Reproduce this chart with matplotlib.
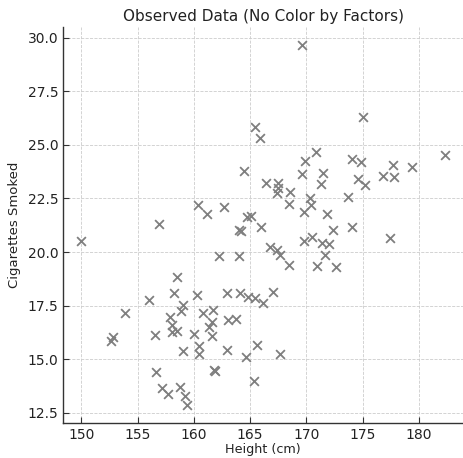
import matplotlib
matplotlib.use("Agg")
import matplotlib.pyplot as plt

height_cm = [
    150.0, 152.6, 152.85, 153.85, 156.0, 156.9, 156.55, 156.6, 157.2, 157.7,
    158.5, 158.26, 157.9, 158.05, 158.1, 158.5, 159.05, 158.9, 159.05, 158.8,
    159.2, 159.4, 160.0, 160.3, 160.5, 160.5, 160.85, 161.35, 161.6, 161.7,
    161.6, 161.8, 161.9, 162.2, 162.95, 162.9, 163.0, 163.7, 164.05, 164.06,
    164.0, 164.15, 164.65, 164.8, 165.4, 165.65, 165.3, 165.4, 165.85, 164.45,
    160.4, 161.2, 162.65, 164.75, 165.05, 166.0, 166.1, 167.0, 167.65, 166.8,
    167.35, 167.65, 168.43, 169.8, 166.4, 167.45, 167.45, 167.4, 168.5, 168.45,
    169.8, 169.65, 169.65, 169.9, 170.85, 170.3, 170.4, 171.8, 171.5, 171.3,
    172.35, 170.5, 171.4, 172.0, 171.65, 170.97, 172.6, 173.7, 174.05, 174.03,
    174.82, 174.58, 175.2, 175.0, 176.8, 177.8, 177.7, 179.4, 182.3, 177.45,
]
cigarettes = [
    20.5, 15.85, 16.05, 17.14, 17.76, 21.3, 16.15, 14.4, 13.66, 13.4,
    18.82, 18.07, 16.97, 16.6, 16.28, 16.3, 17.55, 17.23, 15.4, 13.7,
    13.3, 12.86, 16.2, 18.0, 15.6, 15.26, 17.18, 16.5, 16.72, 17.28,
    16.09, 14.5, 14.45, 19.8, 18.1, 15.42, 16.85, 16.87, 19.8, 18.1,
    21.05, 21.0, 15.12, 17.89, 17.87, 15.68, 13.98, 25.83, 25.31, 23.78,
    22.2, 21.75, 22.08, 21.62, 21.68, 21.17, 17.63, 18.12, 15.23, 20.22,
    20.1, 19.87, 19.4, 20.5, 23.2, 23.2, 23.0, 22.75, 22.8, 22.25,
    21.86, 23.63, 29.65, 24.25, 24.68, 22.52, 22.19, 21.75, 23.68, 23.18,
    21.05, 20.7, 20.42, 20.36, 19.84, 19.33, 19.3, 22.56, 21.17, 24.33,
    24.2, 23.39, 23.12, 26.28, 23.55, 23.51, 24.06, 23.98, 24.53, 20.65,
]

title = "Observed Data (No Color by Factors)"
xlabel = "Height (cm)"
ylabel = "Cigarettes Smoked"
xticks = [150, 155, 160, 165, 170, 175, 180]
yticks = [12.5, 15.0, 17.5, 20.0, 22.5, 25.0, 27.5, 30.0]

fig = plt.figure(figsize=(4.64, 4.58), dpi=100)
ax = fig.add_axes([0.136, 0.076, 0.862, 0.865])
ax.scatter(height_cm, cigarettes, marker="x", color="#7f7f7f", s=40, linewidths=1.3, zorder=3)

ax.set_xticks(xticks)
ax.set_yticks(yticks)
ax.set_yticklabels([f"{v:.1f}" for v in yticks])
ax.grid(True, linestyle="--", color="#cccccc", linewidth=0.6, zorder=0)
ax.set_axisbelow(True)
for s in ["top", "right"]:
    ax.spines[s].set_visible(False)
for s in ["left", "bottom"]:
    ax.spines[s].set_color("#333333")
    ax.spines[s].set_linewidth(1.0)
ax.tick_params(direction="in", length=4, labelsize=10, colors="#333333", labelcolor="#222222")
ax.set_title(title, fontsize=11, color="#222222", pad=4)
ax.set_xlabel(xlabel, fontsize=9.2, color="#222222", labelpad=1)
ax.set_ylabel(ylabel, fontsize=9.5, color="#222222", labelpad=5)

fig.savefig("out.png", dpi=100)
